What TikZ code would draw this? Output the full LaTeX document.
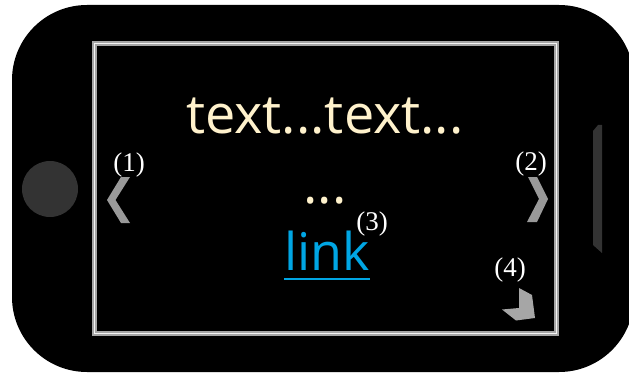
\documentclass[tikz,border=0pt]{standalone}
\usepackage{fontspec}
\setmainfont{Liberation Serif}
\newfontfamily\uifont{Open Sans}
\definecolor{cream}{HTML}{FFF2CC}
\definecolor{linkblue}{HTML}{00A6E4}
\definecolor{darkpart}{HTML}{333333}
\definecolor{chevron}{HTML}{999999}
\begin{document}
\begin{tikzpicture}[x=1pt,y=-1pt,
  callout/.style={text=white,inner sep=0pt,font=\fontsize{27}{27}\selectfont},
  bigtext/.style={inner sep=0pt,anchor=base,font=\uifont\fontsize{54}{54}\selectfont}]
\useasboundingbox (0,0) rectangle (629,377);
\clip (0,0) rectangle (629,377);
% phone body
\fill[black,rounded corners=75pt] (12,5) rectangle (634,372);
% home button and side key
\fill[darkpart] (50,189) circle[radius=28];
\fill[darkpart] (593,131) -- (598,125) -- (602,125) -- (602,253) -- (593,245) -- cycle;
% screen frame
\draw[gray!70,line width=5pt] (94.5,43.5) rectangle (556.5,333.5);
\draw[white!92!gray,line width=1.6pt] (94.5,43.5) rectangle (556.5,333.5);
% screen content
\node[bigtext,text=cream] (t1) at (325,134) {text...text...};
\node[bigtext,text=cream] (t2) at (325,203) {...};
\node[bigtext,text=linkblue,font=\uifont\fontsize{52}{52}\selectfont] (lk) at (327,270) {link};
\draw[linkblue,line width=2.6pt] ([yshift=-9pt]lk.base west) -- ([yshift=-9pt]lk.base east);
% navigation chevrons
\fill[chevron] (121,177) -- (130,177) -- (115.5,200) -- (130,223) -- (121,223) -- (107,200) -- cycle;
\fill[chevron] (528,177) -- (537,177) -- (548,199) -- (537,222) -- (527,222) -- (539,199) -- cycle;
% corner arrow
\fill[gray!70] (519,288) -- (532,295) -- (535,318) -- (516,320.5) -- (502,309.5) -- (519,308) -- cycle;
% callout numbers
\node[callout] (c1) at (129,165) {(1)};
\node[callout] (c2) at (531,164) {(2)};
\node[callout] (c3) at (372,224) {(3)};
\node[callout] (c4) at (510,270) {(4)};
\end{tikzpicture}
\end{document}
